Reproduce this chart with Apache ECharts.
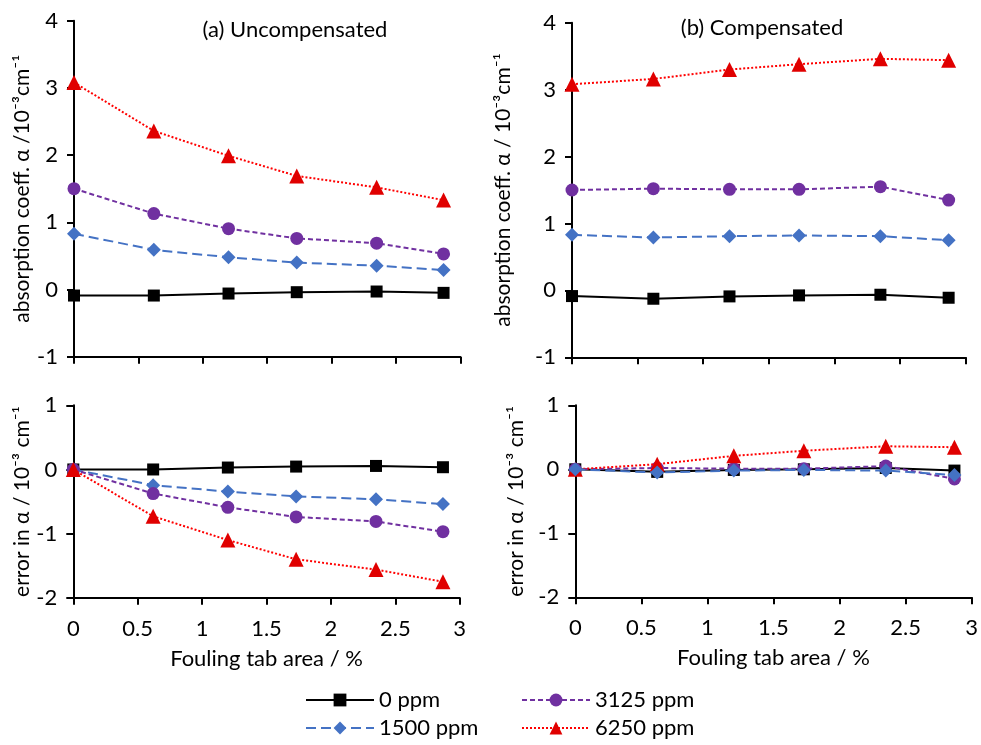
<!DOCTYPE html>
<html>
<head>
<meta charset="utf-8">
<script src="https://cdn.jsdelivr.net/npm/echarts@6/dist/echarts.min.js"></script>
<style>html,body{margin:0;padding:0;background:#fff}#c{width:981px;height:745px}</style>
</head>
<body>
<div id="c"></div>
<script>
// Fouling tab area (%)
var fouling = [0, 0.62, 1.2, 1.73, 2.35, 2.87];
var seriesNames = ['0 ppm', '1500 ppm', '3125 ppm', '6250 ppm'];
var xTicks = ['0', '0.5', '1', '1.5', '2', '2.5', '3'];

// (a) Uncompensated absorption coefficient
var unc0 = [-0.09, -0.09, -0.06, -0.04, -0.03, -0.05];
var unc1500 = [0.83, 0.59, 0.48, 0.40, 0.355, 0.29];
var unc3125 = [1.50, 1.13, 0.905, 0.76, 0.69, 0.53];
var unc6250 = [3.08, 2.36, 1.99, 1.69, 1.52, 1.33];

// (b) Compensated absorption coefficient
var comp0 = [-0.085, -0.125, -0.09, -0.075, -0.065, -0.11];
var comp1500 = [0.83, 0.79, 0.81, 0.82, 0.81, 0.75];
var comp3125 = [1.50, 1.52, 1.51, 1.51, 1.55, 1.35];
var comp6250 = [3.08, 3.16, 3.30, 3.38, 3.46, 3.44];

// Error, uncompensated
var errU0 = [0, 0.0, 0.03, 0.045, 0.055, 0.035];
var errU1500 = [0, -0.245, -0.345, -0.42, -0.465, -0.54];
var errU3125 = [0, -0.375, -0.59, -0.74, -0.81, -0.97];
var errU6250 = [0, -0.73, -1.10, -1.40, -1.56, -1.75];

// Error, compensated
var errC0 = [0, -0.04, -0.01, 0.0, 0.02, -0.02];
var errC1500 = [0, -0.05, -0.02, -0.01, -0.02, -0.09];
var errC3125 = [0, 0.02, 0.01, 0.01, 0.05, -0.15];
var errC6250 = [0, 0.08, 0.21, 0.29, 0.36, 0.345];

function pairs(ys) { return fouling.map(function (x, i) { return [x, ys[i]]; }); }

var FONT = 'Lato';
var styles = {
  '0 ppm':    { color: '#000000', symbol: 'rect', symbolSize: 12, line: { type: 'solid', width: 2 } },
  '1500 ppm': { color: '#4472C4', symbol: 'diamond', symbolSize: 14, line: { type: [10, 5], width: 2 } },
  '3125 ppm': { color: '#7030A0', symbol: 'circle', symbolSize: 13, line: { type: [5, 3], width: 2 } },
  '6250 ppm': { color: '#E00000', symbol: 'triangle', symbolSize: 15, line: { type: [2, 2], width: 2, color: '#FF0000' } }
};

function mk(name, idx, ys, z) {
  var s = styles[name];
  return {
    name: name, type: 'line', xAxisIndex: idx, yAxisIndex: idx,
    data: pairs(ys), symbol: s.symbol, symbolSize: s.symbolSize,
    showSymbol: true, animation: false, z: z,
    itemStyle: { color: s.color, opacity: 1 },
    lineStyle: { color: s.line.color || s.color, type: s.line.type, width: s.line.width }
  };
}

function xAx(idx, showLabels) {
  return {
    type: 'value', gridIndex: idx, min: 0, max: 3, interval: 0.5,
    name: showLabels ? 'Fouling tab area / %' : '', nameLocation: 'middle', nameGap: 50,
    nameTextStyle: { fontFamily: FONT, fontSize: 22, color: '#000' },
    axisLine: { onZero: false, lineStyle: { color: '#000', width: 2 } },
    axisTick: { show: true, length: 7, lineStyle: { color: '#000', width: 2 } },
    axisLabel: { show: showLabels, fontFamily: FONT, fontSize: 22, color: '#000', margin: 20 },
    splitLine: { show: false }
  };
}

function yAx(idx, min, max, name, gap) {
  return {
    type: 'value', gridIndex: idx, min: min, max: max, interval: 1,
    name: name, nameLocation: 'middle', nameGap: gap, nameRotate: 90,
    nameTextStyle: { fontFamily: FONT, fontSize: 21, color: '#000' },
    axisLine: { onZero: false, lineStyle: { color: '#000', width: 2 } },
    axisTick: { show: true, length: 7, lineStyle: { color: '#000', width: 2 } },
    axisLabel: { fontFamily: FONT, fontSize: 22, color: '#000', margin: 16 },
    splitLine: { show: false }
  };
}

var chart = echarts.init(document.getElementById('c'), null, { renderer: 'canvas' });

var legendCommon = {
  orient: 'vertical', itemWidth: 68, itemHeight: 16, itemGap: 6,
  textStyle: { fontFamily: FONT, fontSize: 22, color: '#000' },
  selectedMode: false
};

chart.setOption({
  animation: false,
  backgroundColor: '#fff',
  title: [
    { text: '(a) Uncompensated', left: 290, top: 14, textAlign: 'center',
      textStyle: { fontFamily: FONT, fontSize: 22, fontWeight: 'normal', color: '#000' } },
    { text: '(b) Compensated', left: 757, top: 12, textAlign: 'center',
      textStyle: { fontFamily: FONT, fontSize: 22, fontWeight: 'normal', color: '#000' } }
  ],
  legend: [
    Object.assign({ left: 300, top: 684, data: ['0 ppm', '1500 ppm'] }, legendCommon),
    Object.assign({ left: 516, top: 684, data: ['3125 ppm', '6250 ppm'] }, legendCommon)
  ],
  grid: [
    { left: 74, top: 20.7, width: 386.3, height: 336, containLabel: false },
    { left: 572, top: 22.7, width: 393.7, height: 334.6, containLabel: false },
    { left: 73.3, top: 405.3, width: 386.4, height: 192.5, containLabel: false },
    { left: 575.3, top: 405.3, width: 398, height: 192, containLabel: false }
  ],
  xAxis: [xAx(0, false), xAx(1, false), xAx(2, true), xAx(3, true)],
  yAxis: [
    yAx(0, -1, 4, 'absorption coeff. α /10⁻³cm⁻¹', 40),
    yAx(1, -1, 4, 'absorption coeff. α / 10⁻³cm⁻¹', 58),
    yAx(2, -2, 1, 'error in α / 10⁻³ cm⁻¹', 34),
    yAx(3, -2, 1, 'error in α / 10⁻³ cm⁻¹', 49)
  ],
  series: [
    mk('0 ppm', 0, unc0, 2), mk('1500 ppm', 0, unc1500, 3), mk('3125 ppm', 0, unc3125, 4), mk('6250 ppm', 0, unc6250, 5),
    mk('0 ppm', 1, comp0, 2), mk('1500 ppm', 1, comp1500, 3), mk('3125 ppm', 1, comp3125, 4), mk('6250 ppm', 1, comp6250, 5),
    mk('0 ppm', 2, errU0, 2), mk('1500 ppm', 2, errU1500, 3), mk('3125 ppm', 2, errU3125, 4), mk('6250 ppm', 2, errU6250, 5),
    mk('0 ppm', 3, errC0, 2), mk('3125 ppm', 3, errC3125, 3), mk('6250 ppm', 3, errC6250, 4), mk('1500 ppm', 3, errC1500, 5)
  ]
});
</script>
</body>
</html>
